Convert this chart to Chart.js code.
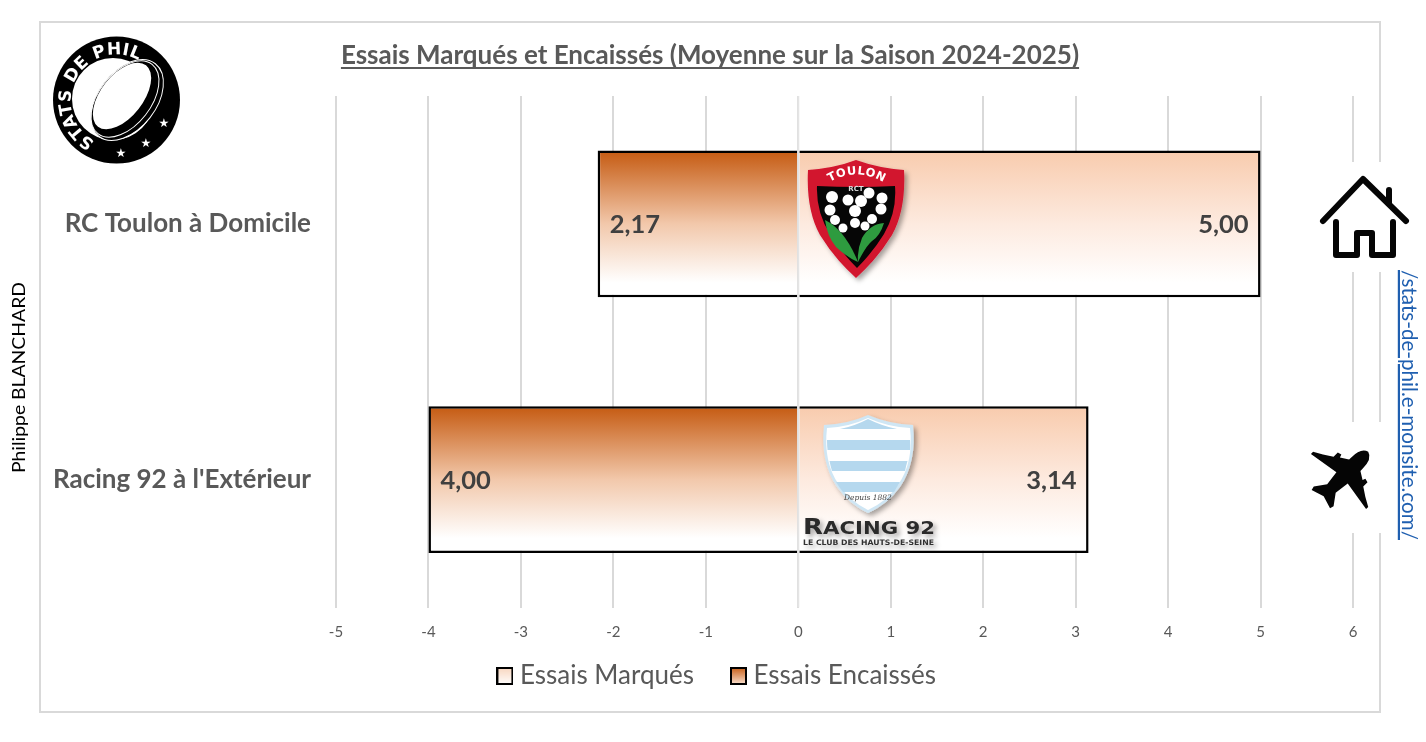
<!DOCTYPE html>
<html lang="fr">
<head>
<meta charset="utf-8">
<title>Essais Marqués et Encaissés</title>
<script src="https://cdn.jsdelivr.net/npm/chart.js@4/dist/chart.umd.min.js"></script>
<style>
  html,body { margin:0; padding:0; background:#fff; }
  #wrap { position:relative; width:1426px; height:742px; overflow:hidden; }
  #frame { position:absolute; left:39px; top:21px; width:1338px; height:688px; border:2px solid #d9d9d9; }
  #essaisChart { position:absolute; left:0; top:0; }
  #overlay { position:absolute; left:0; top:0; pointer-events:none; }
</style>
</head>
<body>
<div id="wrap">
  <div id="frame"></div>
  <canvas id="essaisChart" width="1426" height="742"></canvas>
  <svg id="overlay" width="1426" height="742" viewBox="0 0 1426 742">
    <defs>
      <filter id="shadow" x="-20%" y="-20%" width="150%" height="150%">
        <feDropShadow dx="3" dy="3" stdDeviation="2.5" flood-color="#000" flood-opacity=".35"/>
      </filter>
      <path id="ringPath" d="M 95 141 A 46 46 0 1 1 152 71"/>
      <path id="toulonArc" d="M828 183 Q856 166 885 183"/>
    </defs>

    <!-- logo stats de phil -->
    <circle cx="116.5" cy="100" r="63.5" fill="#000"/>
    <circle cx="113" cy="99" r="41" fill="#fff"/>
    <ellipse cx="127" cy="100" rx="46" ry="29" transform="rotate(-52 127 100)" fill="#000" stroke="#fff" stroke-width="1"/>
    <ellipse cx="122" cy="96" rx="39" ry="21" transform="rotate(-52 122 96)" fill="#fff"/>
    <ellipse cx="125" cy="99" rx="44" ry="26" transform="rotate(-52 125 99)" fill="none" stroke="#fff" stroke-width="1"/>
    <text font-family="DejaVu Sans" font-weight="bold" font-size="17" fill="#fff" letter-spacing=".4">
      <textPath href="#ringPath" startOffset="0">STATS DE PHIL</textPath>
    </text>
    <g fill="#fff" font-family="DejaVu Sans" font-size="12" text-anchor="middle">
      <text x="121" y="157">★</text><text x="146" y="147">★</text><text x="164" y="127">★</text>
    </g>

    <!-- logo toulon -->
    <g filter="url(#shadow)">
      <path d="M808 170 Q835 168 856 160 Q878 168 904 170 Q906 210 892 235 Q878 258 856 278 Q834 258 820 235 Q806 210 808 170 Z" fill="#d2122e"/>
    </g>
    <path d="M817 186 Q857 188 895 186 Q897 212 884 234 Q873 252 857 268 Q841 252 830 234 Q816 212 817 186 Z" fill="#060606"/>
    <path d="M825 220 Q845 230 858 262 Q848 258 836 247 Q827 236 825 220 Z" fill="#2e9b3f"/>
    <path d="M884 223 Q870 224 862 238 Q857 250 858 262 Q866 246 872 241 Q880 236 884 223 Z" fill="#2e9b3f"/>
    <g fill="#fff">
      <circle cx="832" cy="197" r="6"/><circle cx="848" cy="200" r="5.500"/><circle cx="861" cy="201" r="6"/>
      <circle cx="869" cy="193" r="5.500"/><circle cx="882" cy="198" r="5.500"/><circle cx="830" cy="210" r="5.500"/>
      <circle cx="855" cy="211" r="6"/><circle cx="881" cy="209" r="5.500"/><circle cx="835" cy="220" r="5"/>
      <circle cx="843" cy="228" r="4.500"/><circle cx="855" cy="223" r="5"/><circle cx="865" cy="226" r="4.500"/><circle cx="872" cy="219" r="5"/>
    </g>
    <text font-family="DejaVu Sans" font-weight="bold" font-size="11.500" fill="#fff" letter-spacing=".6"><textPath href="#toulonArc" startOffset="2">TOULON</textPath></text>
    <text x="856" y="191" font-family="DejaVu Sans" font-weight="bold" font-size="7" fill="#ddd" text-anchor="middle">RCT</text>

    <!-- logo racing -->
    <g filter="url(#shadow)">
      <path d="M824 425 Q848 424 868 415 Q889 424 913 425 Q917 462 900 487 Q888 504 868 513 Q849 504 837 487 Q820 462 824 425 Z" fill="#cfe6f4"/>
    </g>
    <path d="M827 428 Q849 427 868 418 Q888 427 910 428 Q914 462 898 485 Q886 502 868 510 Q851 502 839 485 Q823 462 827 428 Z" fill="#fff"/>
    <path d="M840 429 Q855 426 868 419 Q882 426 897 429 Z" fill="#b5d8ee"/>
    <path d="M827 440 H910 Q910.500 445 910 450 H827.500 Q827 445 827 440 Z" fill="#b5d8ee"/>
    <path d="M829.500 461 H907.500 Q906 466 905 471 H832 Q830.500 466 829.500 461 Z" fill="#b5d8ee"/>
    <path d="M836 482 H900 Q897 487 894 492 H843 Q839 487 836 482 Z" fill="#b5d8ee"/>
    <text x="868" y="500" font-family="DejaVu Serif" font-style="italic" font-size="7.500" fill="#444" text-anchor="middle">Depuis 1882</text>
    <g filter="url(#shadow)">
      <text x="803" y="534" font-family="DejaVu Sans" font-weight="bold" font-size="18" fill="#2a2a2a" textLength="132" lengthAdjust="spacingAndGlyphs"><tspan font-size="22">R</tspan>ACING 92</text>
      <text x="803" y="545" font-family="DejaVu Sans" font-weight="bold" font-size="7.500" fill="#333" textLength="131" lengthAdjust="spacingAndGlyphs">LE CLUB DES HAUTS-DE-SEINE</text>
    </g>

    <!-- maison -->
    <rect x="1305" y="162" width="92" height="110" fill="#fff"/>
    <rect x="1397" y="162" width="13" height="108" fill="#fff"/>
    <g fill="none" stroke="#050505" stroke-width="6" stroke-linecap="round" stroke-linejoin="round">
      <path d="M1323 221 L1363 179 L1406 221"/>
      <path d="M1389 190 V203"/>
      <path d="M1336 222 V255 H1357 V233 H1372 V255 H1393 V222"/>
    </g>

    <!-- avion -->
    <rect x="1300" y="422" width="85" height="111" fill="#fff"/>
    <g transform="translate(1347 473) rotate(45)" fill="#050505">
      <path d="M0 -30 Q8 -28 8 -14 L8 -11 L16 -6 L17 -9 L21 -8 L21 -2 L30 4 L39 9 L39 12 L8 7 L6 22 L14 33 L13 37 L0 33 L-13 37 L-14 33 L-6 22 L-8 7 L-39 12 L-39 9 L-30 4 L-21 -2 L-21 -8 L-17 -9 L-16 -6 L-8 -11 L-8 -14 Q-8 -28 0 -30 Z"/>
    </g>

    <text transform="translate(25 473) rotate(-90)" font-family="Lato" font-size="18" fill="#000" textLength="191" lengthAdjust="spacingAndGlyphs">Philippe BLANCHARD</text>
    <text transform="translate(1402 270) rotate(90)" font-family="Lato" font-size="22" fill="#1f5fb0" text-decoration="underline" textLength="270" lengthAdjust="spacingAndGlyphs">/stats-de-phil.e-monsite.com/</text>
  </svg>
</div>
<script>
// valeurs
const categories = ["RC Toulon à Domicile", "Racing 92 à l'Extérieur"];
const essaisMarques = [5.00, 3.14];
const essaisEncaisses = [-2.17, -4.00];
const tickLabels = ["-5", "-4", "-3", "-2", "-1", "0", "1", "2", "3", "4", "5", "6"];
const titre = "Essais Marqués et Encaissés (Moyenne sur la Saison 2024-2025)";

const barPct = 147 / 256;
const fontName = "Lato, 'Open Sans', sans-serif";

function barGradient(c, top, mid) {
  const chart = c.chart;
  if (!chart.scales.y) return top;
  const y = chart.scales.y.getPixelForValue(c.dataIndex);
  const half = chart.scales.y.height / categories.length * barPct / 2;
  const g = chart.ctx.createLinearGradient(0, y - half, 0, y + half);
  g.addColorStop(0, top);
  g.addColorStop(0.5, mid);
  g.addColorStop(0.9, "#ffffff");
  return g;
}

function swatch(top, bottom) {
  const s = document.createElement("canvas");
  s.width = 17; s.height = 18;
  const x = s.getContext("2d");
  const g = x.createLinearGradient(0, 0, 0, 18);
  g.addColorStop(0, top);
  g.addColorStop(1, bottom);
  x.fillStyle = g;
  x.fillRect(1, 1, 15, 16);
  x.strokeStyle = "#000";
  x.lineWidth = 2;
  x.strokeRect(1, 1, 15, 16);
  return s;
}

// ligne du zéro, libellés et soulignement du titre
const extras = {
  id:"extras",
  afterLayout(chart) {
    // titre et légende sont décalés par rapport au centre du canvas
    chart.titleBlock.left += 33.5;
    chart.titleBlock.right += 33.5;
    chart.legend.left += 43;
    chart.legend.right += 43;
    chart.legend.top -= 27;
    chart.legend.bottom -= 27;
  },
  afterDatasetsDraw(chart) {
    const { ctx, scales, chartArea } = chart;
    const x0 = scales.x.getPixelForValue(0);
    ctx.save();
    ctx.strokeStyle = "#e4e4e4";
    ctx.lineWidth = 2;
    ctx.beginPath();
    ctx.moveTo(x0, chartArea.top);
    ctx.lineTo(x0, chartArea.bottom);
    ctx.stroke();

    ctx.font = "bold 25.5px " + fontName;
    ctx.fillStyle = "#404040";
    ctx.textBaseline = "middle";
    chart.data.datasets.forEach(ds => {
      ds.data.forEach((v, i) => {
        const px = scales.x.getPixelForValue(v);
        const py = scales.y.getPixelForValue(i);
        ctx.textAlign = v < 0 ? "left" : "right";
        ctx.fillText(Math.abs(v).toFixed(2).replace(".", ","), px + (v < 0 ? 12 : -12), py + 1);
      });
    });

    const tb = chart.titleBlock;
    ctx.font = "bold 26px " + fontName;
    const w = ctx.measureText(titre).width;
    const cx = (tb.left + tb.right) / 2;
    ctx.strokeStyle = "#595959";
    ctx.lineWidth = 2;
    ctx.beginPath();
    ctx.moveTo(cx - w / 2, 68);
    ctx.lineTo(cx + w / 2, 68);
    ctx.stroke();
    ctx.restore();
  }
};

new Chart(document.getElementById("essaisChart"), {
  type:"bar",
  data:{
    labels:categories,
    datasets:[
      {
        label:"Essais Marqués",
        data:essaisMarques,
        backgroundColor:c => barGradient(c, "#f8cbad", "#fdeadf")
      },
      {
        label:"Essais Encaissés",
        data:essaisEncaisses,
        backgroundColor:c => barGradient(c, "#c55a11", "#f2c8ab")
      }
    ]
  },
  options:{
    indexAxis:"y",
    responsive:false,
    animation:false,
    layout:{ padding:{ left:0, right:73, top:0, bottom:16 } },
    datasets:{ bar:{ barPercentage:barPct, categoryPercentage:1, borderColor:"#000", borderWidth:2.5 } },
    plugins:{
      title:{
        display:true,
        text:titre,
        color:"#595959",
        font:{ family:fontName, size:26, weight:"bold", lineHeight:1.2 },
        padding:{ top:40, bottom:24.8 }
      },
      legend:{
        position:"bottom",
        labels:{
          usePointStyle:true,
          boxWidth:4,
          boxHeight:4,
          color:"#595959",
          font:{ family:fontName, size:26 },
          padding:42.5,
          generateLabels:() => [
            { text:"Essais Marqués", pointStyle:swatch("#f8d5bd", "#ffffff"), fontColor:"#595959", datasetIndex:0 },
            { text:"Essais Encaissés", pointStyle:swatch("#c55a11", "#fbe5d6"), fontColor:"#595959", datasetIndex:1 }
          ]
        }
      },
      tooltip:{ enabled:false }
    },
    scales:{
      x:{
        type:"linear",
        stacked:true,
        min:-5,
        max:6,
        border:{ display:false },
        grid:{ color:"#d9d9d9", lineWidth:2, drawTicks:false },
        ticks:{
          stepSize:1,
          padding:16,
          color:"#595959",
          font:{ family:fontName, size:15 },
          maxRotation:0,
          autoSkip:false,
          callback:(v, i) => tickLabels[i]
        },
        afterFit:s => { s.height = 40; }
      },
      y:{
        stacked:true,
        border:{ display:false },
        grid:{ display:false, drawTicks:false },
        ticks:{
          padding:25,
          color:"#595959",
          font:{ family:fontName, size:26, weight:"bold" }
        },
        afterFit:s => { s.width = 336; }
      }
    }
  },
  plugins:[extras]
});
</script>
</body>
</html>
